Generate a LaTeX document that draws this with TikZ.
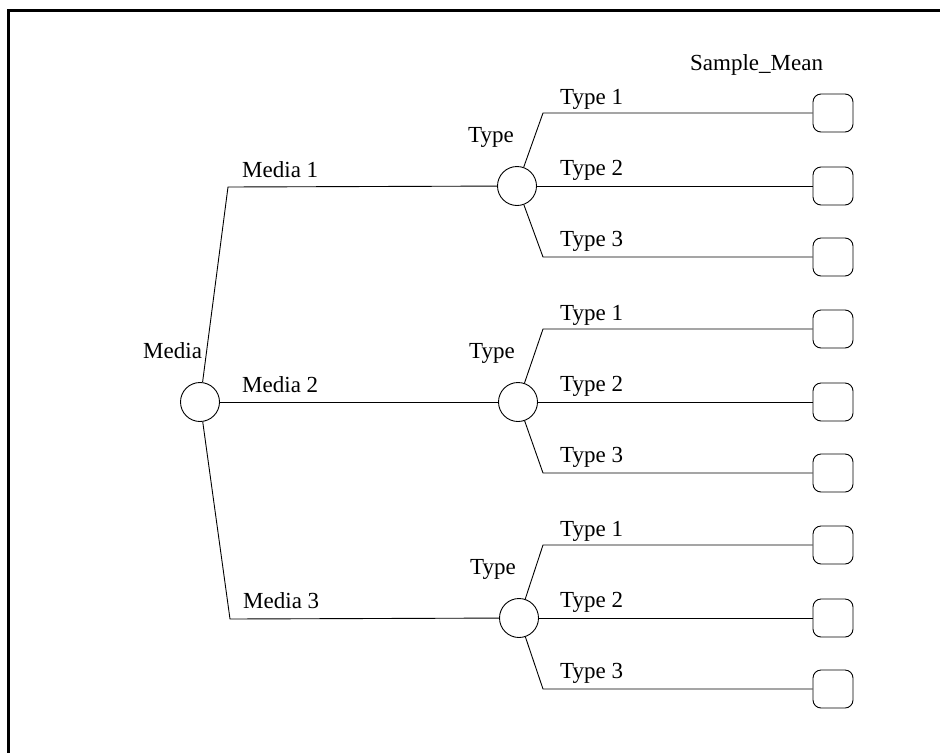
\documentclass[tikz,border=0pt]{standalone}
\usepackage{fontspec}
\setmainfont{Liberation Serif}
\begin{document}
\begin{tikzpicture}[x=1pt,y=-1pt,
  lbl/.style={font=\fontsize{23}{27}\selectfont, inner sep=0pt, anchor=base west},
  chance/.style={circle, draw, line width=0.9pt, minimum size=39pt, inner sep=0pt},
  term/.style={draw, rounded corners=8pt, line width=0.9pt, minimum width=40pt, minimum height=38pt, inner sep=0pt},
  edge/.style={line width=0.9pt}]
\useasboundingbox (0,0) rectangle (940,753);
\draw[line width=3pt] (940,10) -- (8,10) -- (8,753);

% root
\node[chance] (m) at (200,402) {};
\node[lbl] (mlab) at (143,358) {Media};

% type chance nodes
\node[chance] (t1) at (517,186) {};
\node[chance] (t2) at (518,402) {};
\node[chance] (t3) at (519,618) {};

\coordinate (c1) at (228,187);
\coordinate (c3) at (230,619);
\draw[edge] (m) -- (c1) -- (t1);
\draw[edge] (m) -- (t2);
\draw[edge] (m) -- (c3) -- (t3);

\node[lbl] (ml1) at (242,177) {Media 1};
\node[lbl] (ml2) at (242,392) {Media 2};
\node[lbl] (ml3) at (243,608) {Media 3};

\node[lbl] (tl1) at (468,142) {Type};
\node[lbl] (tl2) at (469,358) {Type};
\node[lbl] (tl3) at (470,574) {Type};

\node[lbl] (smean) at (690,70) {Sample\_Mean};

% terminal nodes and branches
\foreach \g/\cy in {1/186, 2/402, 3/618} {
  \pgfmathsetmacro{\ya}{\cy-73}
  \pgfmathsetmacro{\yc}{\cy+71}
  \node[term] (s\g a) at (833,\ya) {};
  \node[term] (s\g b) at (833,\cy) {};
  \node[term] (s\g c) at (833,\yc) {};
  \coordinate (k\g a) at (543,\ya);
  \coordinate (k\g c) at (543,\yc);
  \draw[edge] (t\g) -- (k\g a) -- (s\g a);
  \draw[edge] (t\g) -- (s\g b);
  \draw[edge] (t\g) -- (k\g c) -- (s\g c);
  \node[lbl] (ty\g a) at (560,\ya-9) {Type 1};
  \node[lbl] (ty\g b) at (560,\cy-11) {Type 2};
  \node[lbl] (ty\g c) at (560,\yc-11) {Type 3};
}
\end{tikzpicture}
\end{document}
